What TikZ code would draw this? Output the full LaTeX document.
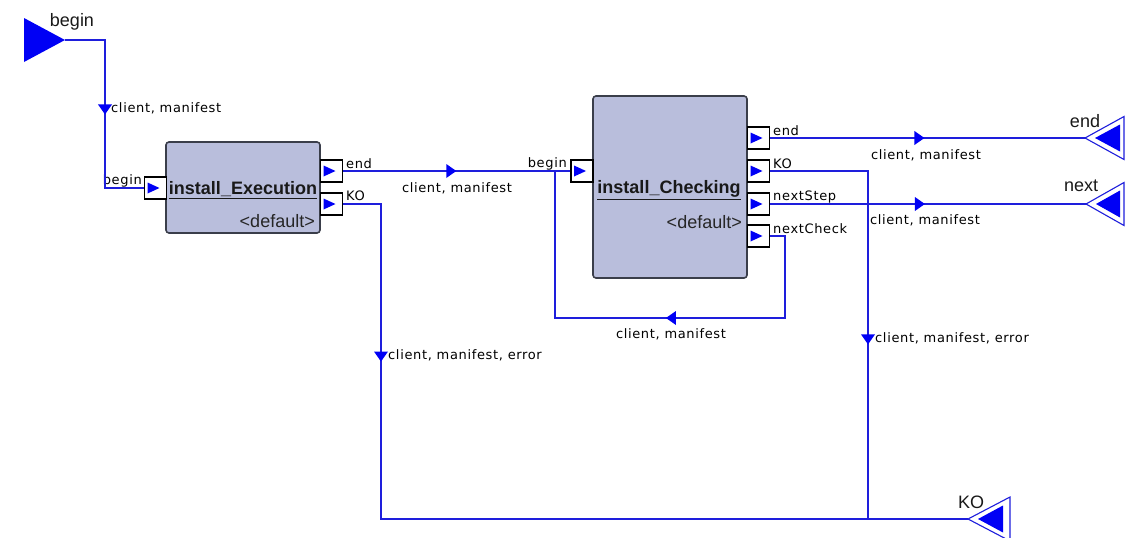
\documentclass[tikz,border=0pt]{standalone}
\usepackage{fontspec}
\usetikzlibrary{shapes.geometric}
\newfontfamily\lblfont{DejaVu Sans}[LetterSpace=5]
\newfontfamily\hfont{Liberation Sans}
\definecolor{wireblue}{RGB}{30,30,220}
\definecolor{fillblue}{RGB}{0,0,245}
\definecolor{boxfill}{RGB}{185,190,220}
\definecolor{boxborder}{RGB}{58,62,74}
\tikzset{
  wire/.style={draw=wireblue, line width=1.3pt},
  mk/.style={isosceles triangle, isosceles triangle apex angle=70, fill=fillblue, inner sep=0pt,
    minimum size=10pt, sloped, allow upside down, anchor=center},
  blockbox/.style={draw=boxborder, fill=boxfill, line width=1.6pt, rounded corners=3pt, inner sep=0pt},
  port/.style={draw=black, fill=white, line width=1.1pt, minimum width=22pt, minimum height=22pt, inner sep=0pt,
    path picture={\fill[fillblue] ([xshift=3pt,yshift=5.5pt]path picture bounding box.west)
      -- ([xshift=15pt]path picture bounding box.west)
      -- ([xshift=3pt,yshift=-5.5pt]path picture bounding box.west) -- cycle;}},
  lbl/.style={font=\lblfont\fontsize{13}{15}\selectfont, inner sep=0pt, text=black},
  ttl/.style={font=\hfont\bfseries\fontsize{18}{20}\selectfont, inner sep=0pt, text=black!90},
  dflt/.style={font=\hfont\fontsize{18}{20}\selectfont, inner sep=0pt, text=black!85},
  tlbl/.style={font=\hfont\fontsize{18}{20}\selectfont, inner sep=0pt, text=black!90},
  termline/.style={draw=wireblue, line width=1.1pt, fill=white}
}
\begin{document}
\begin{tikzpicture}[x=1pt,y=-1pt]
\useasboundingbox (0,0) rectangle (1127,538);

% blocks
\node[blockbox, minimum width=154pt, minimum height=91pt] (bEx) at (243,187.5) {};
\node[blockbox, minimum width=154pt, minimum height=182pt] (bCh) at (670,187) {};
\node[ttl] (tiEx) at (243,190) {\underline{install\_Execution}};
\node[dflt, anchor=east] (dfEx) at (315,221) {<default>};
\node[ttl] (tiCh) at (669,190) {\underline{install\_Checking}};
\node[dflt, anchor=east] (dfCh) at (742,222) {<default>};

% ports
\node[port] (pExIn) at (155.5,188) {};
\node[port] (pExEnd) at (331.5,171) {};
\node[port] (pExKO) at (331.5,204) {};
\node[port] (pChIn) at (582,171) {};
\node[port] (pChEnd) at (758.5,138) {};
\node[port] (pChKO) at (758.5,171) {};
\node[port] (pChNS) at (758.5,204) {};
\node[port] (pChNC) at (758.5,236) {};

% port labels
\node[lbl, anchor=east] (lExIn) at (142,181) {begin};
\node[lbl, anchor=west] (lExEnd) at (346,164) {end};
\node[lbl, anchor=west] (lExKO) at (346,196) {KO};
\node[lbl, anchor=east] (lChIn) at (567,164) {begin};
\node[lbl, anchor=west] (lChEnd) at (773,131) {end};
\node[lbl, anchor=west] (lChKO) at (773,164) {KO};
\node[lbl, anchor=west] (lChNS) at (773,197) {nextStep};
\node[lbl, anchor=west] (lChNC) at (773,229) {nextCheck};

% terminals
\coordinate (tBegin) at (65,40);
\fill[fillblue] (24,18) -- (tBegin) -- (24,62) -- cycle;
\node[tlbl] (ltBegin) at (72,22) {begin};

\coordinate (tEnd) at (1085,138);
\draw[termline] (tEnd) -- ++(39,-21.5) -- ++(0,43) -- cycle;
\fill[fillblue] (1095,138) -- ++(25,-13.5) -- ++(0,27) -- cycle;
\node[tlbl] (ltEnd) at (1085,121) {end};

\coordinate (tNext) at (1086,204);
\draw[termline] (tNext) -- ++(38,-21.5) -- ++(0,43) -- cycle;
\fill[fillblue] (1096,204) -- ++(24,-13.5) -- ++(0,27) -- cycle;
\node[tlbl] (ltNext) at (1081,186) {next};

\coordinate (tKO) at (968,519);
\draw[termline] (tKO) -- ++(42,-22) -- ++(0,44) -- cycle;
\fill[fillblue] (978,519) -- ++(25,-13.5) -- ++(0,27) -- cycle;
\node[tlbl] (ltKO) at (971,502) {KO};

% junction coordinates
\coordinate (jB) at (105,40);
\coordinate (fbR) at (785,318);
\coordinate (fbL) at (555,318);
\coordinate (jKO2) at (868,519);
\coordinate (jKO1) at (381,519);

% connectors
\draw[wire] (tBegin) -- (jB) -- node[mk, pos=.46] (m1) {} (jB |- pExIn.west) -- (pExIn.west);
\draw[wire] (pExEnd.east) -- node[mk, pos=.47] (m2) {} (pChIn.west);
\draw[wire] (pChNC.east) -- (pChNC.east -| fbR) -- (fbR) -- node[mk, pos=.49] (m3) {} (fbL) -- (fbL |- pChIn.west);
\draw[wire] (pChEnd.east) -- node[mk, pos=.47] (m4) {} (tEnd);
\draw[wire] (pChNS.east) -- node[mk, pos=.47] (m5) {} (tNext);
\draw[wire] (pChKO.east) -- (pChKO.east -| jKO2) -- node[mk, pos=.48] (m6) {} (jKO2);
\draw[wire] (pExKO.east) -- (pExKO.east -| jKO1) -- node[mk, pos=.48] (m7) {} (jKO1) -- (tKO);

% connector labels
\node[lbl, anchor=west] (c1) at (111,108) {client, manifest};
\node[lbl] (c2) at (457,188) {client, manifest};
\node[lbl] (c3) at (671,334) {client, manifest};
\node[lbl] (c4) at (926,155) {client, manifest};
\node[lbl] (c5) at (925,220) {client, manifest};
\node[lbl, anchor=west] (c6) at (875,338) {client, manifest, error};
\node[lbl, anchor=west] (c7) at (388,355) {client, manifest, error};
\end{tikzpicture}
\end{document}
